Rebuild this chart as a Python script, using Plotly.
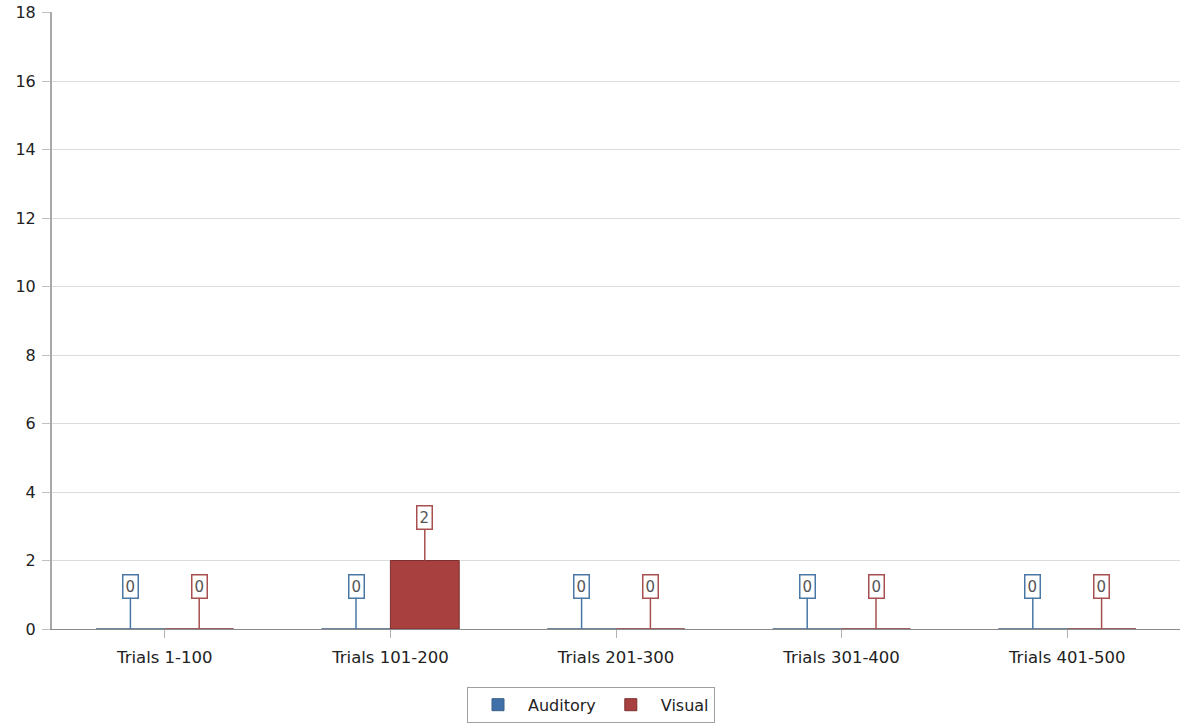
import plotly.graph_objects as go

categories = ["Trials 1-100", "Trials 101-200", "Trials 201-300", "Trials 301-400", "Trials 401-500"]
auditory = [0, 0, 0, 0, 0]
visual = [0, 2, 0, 0, 0]
y_ticks = [0, 2, 4, 6, 8, 10, 12, 14, 16, 18]

font = "DejaVu Sans"
bargap = 0.39

fig = go.Figure()
fig.add_trace(go.Bar(
    x=categories, y=auditory, name="Auditory",
    marker=dict(color="#4070aa", line=dict(color="#3b5f85", width=1)),
))
fig.add_trace(go.Bar(
    x=categories, y=visual, name="Visual",
    marker=dict(color="#a84040", line=dict(color="#7d2e2e", width=1)),
))

# boxed value labels on a short stem above each bar
half = (1 - bargap) / 4  # centre offset of each bar in a group
for i, cat in enumerate(categories):
    for val, off, col in [(auditory[i], -half, "#4a78a6"), (visual[i], half, "#a85050")]:
        fig.add_annotation(
            x=i + off, y=val, xref="x", yref="y",
            text=str(val), showarrow=True, arrowhead=0, arrowwidth=1.5,
            arrowcolor=col, ax=0, ay=-43, bordercolor=col, borderwidth=1.5,
            borderpad=2, bgcolor="white",
            font=dict(family=font, size=15, color="#555555"),
        )

fig.update_layout(
    width=1182, height=726,
    margin=dict(l=52, r=2, t=12, b=97),
    plot_bgcolor="white", paper_bgcolor="white",
    barmode="group", bargap=bargap, bargroupgap=0,
    font=dict(family=font, size=15, color="#222222"),
    showlegend=True,
    legend=dict(
        orientation="h", x=0.5, xanchor="center", xref="container",
        y=0.054, yanchor="top", yref="container",
        bordercolor="#a0a0a0", borderwidth=1, bgcolor="white",
        font=dict(family=font, size=16, color="#222222"),
        itemwidth=50,
    ),
    xaxis=dict(
        type="category", showline=True, linecolor="#8a8a8a", linewidth=1,
        ticks="outside", ticklen=8, tickcolor="#b0b0b0",
        showgrid=False, tickfont=dict(size=16.5), ticklabelstandoff=5,
    ),
    yaxis=dict(
        range=[0, 18.02], tickvals=y_ticks, showline=True, linecolor="#a8a8a8",
        linewidth=2, ticks="outside", ticklen=8, tickcolor="#c0c0c0",
        showgrid=True, gridcolor="#dcdcdc", zeroline=False,
        tickfont=dict(size=16), ticklabelstandoff=3,
    ),
)

# drop the default page margin so the figure sits at the window origin
fig.write_html(
    "out.html",
    config={"displayModeBar": False},
    post_script="document.body.style.margin='0';",
)
